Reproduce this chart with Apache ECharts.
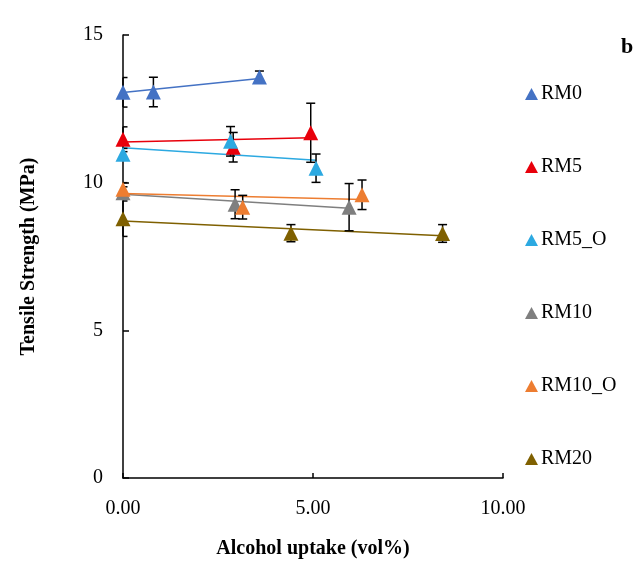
<!DOCTYPE html>
<html>
<head>
<meta charset="utf-8">
<script src="https://cdn.jsdelivr.net/npm/echarts@6/dist/echarts.min.js"></script>
<style>
  html, body { margin: 0; padding: 0; background: #fff; }
  #chart { width: 644px; height: 564px; }
</style>
</head>
<body>
<div id="chart"></div>
<script>
// values: x = alcohol uptake (vol%), y = tensile strength (MPa), err = error bar half-length
const names = ['RM0', 'RM5', 'RM5_O', 'RM10', 'RM10_O', 'RM20'];

const rm0X = [0, 0.8, 3.59];
const rm0Y = [13.06, 13.07, 13.58];
const rm0Err = [0.5, 0.5, 0.2];
const rm0Trend = [[0, 13.05], [3.59, 13.53]];

const rm5X = [0, 2.9, 4.94];
const rm5Y = [11.47, 11.2, 11.69];
const rm5Err = [0.42, 0.5, 1.0];
const rm5Trend = [[0, 11.38], [4.94, 11.52]];

const rm5oX = [0, 2.83, 5.08];
const rm5oY = [10.96, 11.4, 10.49];
const rm5oErr = [0.2, 0.5, 0.48];
const rm5oTrend = [[0, 11.18], [5.08, 10.76]];

const rm10X = [0, 2.95, 5.95];
const rm10Y = [9.66, 9.27, 9.17];
const rm10Err = [0.2, 0.49, 0.8];
const rm10Trend = [[0, 9.61], [5.95, 9.13]];

const rm10oX = [0, 3.15, 6.29];
const rm10oY = [9.78, 9.17, 9.59];
const rm10oErr = [0.22, 0.4, 0.5];
const rm10oTrend = [[0, 9.63], [6.29, 9.43]];

const rm20X = [0, 4.42, 8.41];
const rm20Y = [8.78, 8.29, 8.28];
const rm20Err = [0.6, 0.29, 0.3];
const rm20Trend = [[0, 8.70], [8.41, 8.20]];

const xTicks = [0, 5, 10];
const yTicks = [0, 5, 10, 15];

const colors = ['#4472C4', '#E8000B', '#2CA9E1', '#7F7F7F', '#ED7D31', '#7F6000'];

const groups = [
    { x: rm0X, y: rm0Y, err: rm0Err, trend: rm0Trend },
    { x: rm5X, y: rm5Y, err: rm5Err, trend: rm5Trend },
    { x: rm5oX, y: rm5oY, err: rm5oErr, trend: rm5oTrend },
    { x: rm10X, y: rm10Y, err: rm10Err, trend: rm10Trend },
    { x: rm10oX, y: rm10oY, err: rm10oErr, trend: rm10oTrend },
    { x: rm20X, y: rm20Y, err: rm20Err, trend: rm20Trend },
];

const serif = '"Liberation Serif", "Times New Roman", serif';

function renderErrorBar(params, api) {
    const x = api.value(0), y = api.value(1), e = api.value(2);
    const hi = api.coord([x, y + e]);
    const lo = api.coord([x, y - e]);
    const w = 4.5;
    // caps are cut at the plot edge, like the original
    const left = params.coordSys.x;
    const x1 = Math.max(hi[0] - w, left);
    const style = { stroke: '#000', lineWidth: 1.5 };
    return {
        type: 'group',
        children: [
            { type: 'line', shape: { x1: hi[0], y1: hi[1], x2: lo[0], y2: lo[1] }, style },
            { type: 'line', shape: { x1: x1, y1: hi[1], x2: hi[0] + w, y2: hi[1] }, style },
            { type: 'line', shape: { x1: x1, y1: lo[1], x2: lo[0] + w, y2: lo[1] }, style },
        ]
    };
}

const series = [];
groups.forEach((g, i) => {
    series.push({
        name: names[i] + ' trend',
        type: 'line',
        data: g.trend,
        symbol: 'none',
        z: 2,
        lineStyle: { color: colors[i], width: 1.5 },
        silent: true,
    });
    series.push({
        name: names[i] + ' err',
        type: 'custom',
        data: g.x.map((v, k) => [v, g.y[k], g.err[k]]),
        encode: { x: 0, y: 1 },
        renderItem: renderErrorBar,
        z: 3,
        silent: true,
    });
    series.push({
        name: names[i],
        type: 'scatter',
        data: g.x.map((v, k) => [v, g.y[k]]),
        symbol: 'triangle',
        symbolSize: [15, 15],
        itemStyle: { color: colors[i], opacity: 1 },
        clip: false,
        z: 4,
    });
});

const chart = echarts.init(document.getElementById('chart'));
chart.setOption({
    animation: false,
    backgroundColor: '#fff',
    color: colors,
    grid: { left: 123, right: 141, top: 35, bottom: 86 },
    xAxis: {
        type: 'value',
        min: xTicks[0],
        max: xTicks[xTicks.length - 1],
        interval: 5,
        name: 'Alcohol uptake (vol%)',
        nameLocation: 'middle',
        nameGap: 61,
        nameTextStyle: { fontFamily: serif, fontWeight: 'bold', fontSize: 20, color: '#000' },
        axisLine: { lineStyle: { color: '#000', width: 1.5 } },
        axisTick: { inside: true, length: 5, lineStyle: { color: '#000', width: 1.5 } },
        axisLabel: {
            margin: 21, fontFamily: serif, fontSize: 20, color: '#000',
            formatter: v => v.toFixed(2)
        },
        splitLine: { show: false },
    },
    yAxis: {
        type: 'value',
        min: yTicks[0],
        max: yTicks[yTicks.length - 1],
        interval: 5,
        name: 'Tensile Strength (MPa)',
        nameLocation: 'middle',
        nameGap: 84,
        nameTextStyle: { fontFamily: serif, fontWeight: 'bold', fontSize: 20, color: '#000' },
        axisLine: { show: true, lineStyle: { color: '#000', width: 1.5 } },
        axisTick: { show: true, inside: true, length: 6, lineStyle: { color: '#000', width: 1.5 } },
        axisLabel: { margin: 20, fontFamily: serif, fontSize: 20, color: '#000' },
        splitLine: { show: false },
    },
    legend: {
        data: names,
        orient: 'vertical',
        left: 520,
        top: 79,
        itemGap: 53,
        itemWidth: 13,
        itemHeight: 12,
        icon: 'triangle',
        itemStyle: { opacity: 1 },
        textStyle: { fontFamily: serif, fontSize: 20, color: '#000', padding: [0, 0, 0, -2] },
    },
    graphic: [{
        type: 'text',
        left: 621,
        top: 36,
        style: { text: 'b', font: 'bold 22px ' + serif, fill: '#000' }
    }],
    series,
});
</script>
</body>
</html>
